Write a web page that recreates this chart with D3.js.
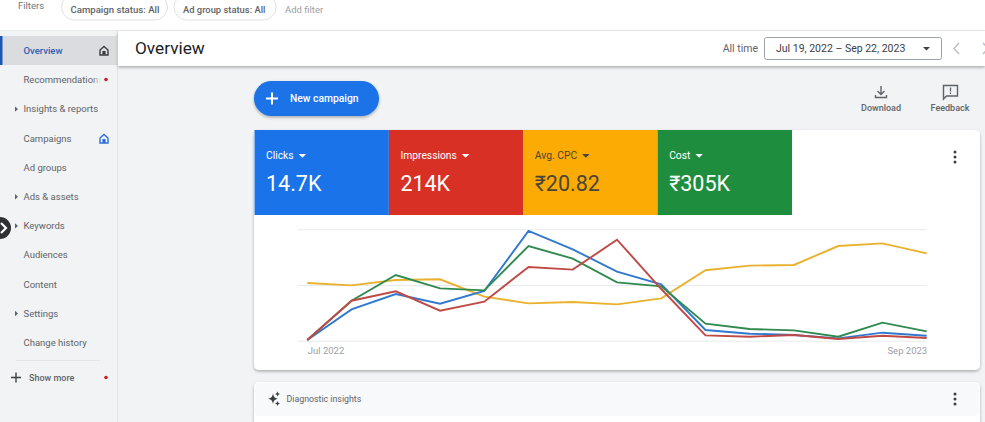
<!DOCTYPE html>
<html>
<head>
<meta charset="utf-8">
<script src="https://cdn.jsdelivr.net/npm/d3@7"></script>
<style>
html, body { margin: 0; padding: 0; background: #f1f3f4; overflow: hidden; }
svg { display: block; font-family: Roboto, sans-serif; }
</style>
</head>
<body>
<script>
var months = ["Jul 2022", "Aug 2022", "Sep 2022", "Oct 2022", "Nov 2022", "Dec 2022", "Jan 2023", "Feb 2023",
    "Mar 2023", "Apr 2023", "May 2023", "Jun 2023", "Jul 2023", "Aug 2023", "Sep 2023"];
var clicks = [0.6, 28.1, 41.9, 33.2, 44.6, 98.5, 82, 62, 50.6, 9.6, 6.3, 5.1, 2.1, 7.2, 4.5];
var impressions = [0.6, 35.9, 44.3, 26.9, 35, 66.2, 63.8, 90.7, 46.4, 4.8, 3.6, 5.1, 1.5, 4.5, 2.4];
var avgCpc = [51.8, 49.7, 54.5, 55.1, 39.5, 33.5, 34.7, 32.6, 38, 63.2, 67.4, 68, 85, 87.4, 78.4];
var cost = [0.6, 35.9, 59, 47, 45.2, 85, 73.7, 52.4, 48.8, 15.3, 10.5, 9.3, 3.6, 16.2, 8.4];
var yTicks = [0, 50, 100];

var tileNames = ["Clicks", "Impressions", "Avg. CPC", "Cost"];
var tileValues = ["14.7K", "214K", "₹20.82", "₹305K"];
var tileColors = ["#1a73e8", "#d93025", "#fbab04", "#1e8e3e"];
var tileText = ["#fff", "#fff", "#4a4538", "#fff"];

var navItems = ["Overview", "Recommendations", "Insights & reports", "Campaigns", "Ad groups", "Ads & assets",
    "Keywords", "Audiences", "Content", "Settings", "Change history"];
var navArrows = ["Insights & reports", "Ads & assets", "Keywords", "Settings"];

// drawn in this order so green and red sit on top as in the original
var chartSeries = [avgCpc, clicks, cost, impressions];
var chartColors = ["#e9b22e", "#3178cf", "#2f8a4f", "#bf4a45"];

var width = 985, height = 422;
var svg = d3.select("body").append("svg").attr("width", width).attr("height", height);

var defs = svg.append("defs");
var blur = defs.append("filter").attr("id", "soft").attr("x", "-5%").attr("y", "-10%").attr("width", "110%").attr("height", "125%");
blur.append("feDropShadow").attr("dx", 0).attr("dy", 1.5).attr("stdDeviation", 1.5).attr("flood-color", "#000").attr("flood-opacity", 0.3);
var fade = defs.append("linearGradient").attr("id", "fade");
fade.append("stop").attr("offset", "0%").attr("stop-color", "#f1f3f4").attr("stop-opacity", 0);
fade.append("stop").attr("offset", "100%").attr("stop-color", "#f1f3f4").attr("stop-opacity", 1);

function rect(x, y, w, h, fill, r) {
    return svg.append("rect").attr("x", x).attr("y", y).attr("width", w).attr("height", h).attr("fill", fill).attr("rx", r || 0);
}
function text(x, y, s, size, fill, weight, anchor) {
    return svg.append("text").attr("x", x).attr("y", y).text(s)
        .attr("font-size", size).attr("fill", fill)
        .attr("font-weight", weight || 400)
        .attr("text-anchor", anchor || "start");
}
function path(d, stroke, w, fill) {
    return svg.append("path").attr("d", d).attr("stroke", stroke || "none").attr("stroke-width", w || 1).attr("fill", fill || "none");
}

rect(0, 0, width, height, "#f1f3f4");

// top filter bar
rect(0, 0, width, 30, "#fff");
rect(0, 30, width, 1, "#e8eaed");
text(18, 9, "Filters", 9.5, "#70757a");
rect(61.5, -6, 106, 26, "#fff", 13).attr("stroke", "#e0e2e5");
text(70.5, 13, "Campaign status: All", 9.6, "#5f6368", 500);
rect(174, -6, 102, 26, "#fff", 13).attr("stroke", "#e0e2e5");
text(183, 13, "Ad group status: All", 9.4, "#5f6368", 500);
text(285, 13, "Add filter", 9.5, "#9aa0a6");

// sidebar
rect(117, 31, 1, 391, "#e4e6e9");
rect(0, 36, 117, 29, "#dadce0");
rect(0, 36, 2.5, 29, "#1a56b8");
navItems.forEach(function(d, i) {
    var y = 54 + i * 29.2;
    text(23.5, y, d, 9.5, i == 0 ? "#2f5fb3" : "#5f6368", i == 0 ? 500 : 400);
    if (navArrows.indexOf(d) >= 0) {
        path("M15 " + (y - 6) + "l3 2.7l-3 2.7z", null, 0, "#5f6368");
    }
});
rect(92, 70, 9, 18, "url(#fade)");
rect(101, 70, 16, 18, "#f1f3f4");
svg.append("circle").attr("cx", 106).attr("cy", 79.5).attr("r", 1.8).attr("fill", "#c5221f");
svg.append("circle").attr("cx", 106).attr("cy", 377.5).attr("r", 1.8).attr("fill", "#c5221f");
rect(16, 360, 84, 1, "#e2e4e7");
path("M11 377.5h10M16 372.5v10", "#3c4043", 1.4);
text(29, 381, "Show more", 9, "#5f6368", 500);

// home icons in the sidebar
function home(x, y, c) {
    path("M" + x + " " + (y + 9) + "v-5l4-3.5l4 3.5v5z", c, 1.4);
    rect(x + 2.4, y + 5, 3.2, 4, c);
}
home(100, 46, "#3c4043");
home(100, 134, "#2f6fd6");

// round expander on the sidebar edge
svg.append("circle").attr("cx", 0).attr("cy", 228).attr("r", 11).attr("fill", "#303134");
path("M1 223l5 5l-5 5", "#fff", 2.2);

// header strip
rect(118, 31, 867, 35, "#fff").attr("filter", "url(#soft)");
text(135, 54, "Overview", 17.2, "#202124");
text(758, 52, "All time", 10.5, "#5f6368", 400, "end");
rect(764.5, 37.5, 177, 22, "#fff", 2).attr("stroke", "#9aa0a6");
text(776, 52, "Jul 19, 2022 – Sep 22, 2023", 10.5, "#3c4043");
path("M923 47h7l-3.5 3.5z", null, 0, "#3c4043");
path("M959 43l-5 5.5l5 5.5", "#bdc1c6", 1.5);
path("M983 43l5 5.5l-5 5.5", "#bdc1c6", 1.5);

// new campaign button
rect(254, 81, 125, 35, "#1a73e8", 17.5).attr("filter", "url(#soft)");
path("M266 98.5h12M272 92.5v12", "#fff", 2);
text(290, 102, "New campaign", 10.3, "#fff", 500);

// download + feedback
path("M881 86v8M877.5 91l3.5 3.5l3.5-3.5M875.5 95v2.5h11v-2.5", "#5f6368", 1.4);
text(881, 111, "Download", 9, "#5f6368", 500, "middle");
path("M943.5 85.5h14v10.5h-11l-3 3z", "#5f6368", 1.4);
path("M950.5 87.5v4M950.5 92.5v1.5", "#5f6368", 1.3);
text(950, 111, "Feedback", 9, "#5f6368", 500, "middle");

// main card
rect(254, 130, 726, 240, "#fff", 5).attr("filter", "url(#soft)");

var tileX = d3.scaleBand().domain(tileNames).range([254.5, 792]);
svg.append("g").selectAll("rect").data(tileNames).enter().append("rect")
    .attr("x", function(d) { return tileX(d); })
    .attr("y", 130)
    .attr("width", tileX.bandwidth())
    .attr("height", 85)
    .attr("fill", function(d, i) { return tileColors[i]; });
tileNames.forEach(function(d, i) {
    var x = tileX(d) + 11.5;
    var label = text(x, 159, d, 10.3, tileText[i]);
    var w = label.node().getComputedTextLength();
    path("M" + (x + w + 5) + " 154h7.5l-3.75 3.75z", null, 0, tileText[i]);
    text(x, 191, tileValues[i], 21.5, tileText[i]);
});

// the chart
var x = d3.scalePoint().domain(months).range([307.3, 926.7]);
var y = d3.scaleLinear().domain([0, 100]).range([340.7, 229.3]);

var grid = svg.append("g").attr("transform", "translate(298,0)")
    .call(d3.axisLeft(y).tickValues(yTicks).tickSize(-629).tickFormat(""));
grid.select(".domain").remove();
grid.selectAll("line").attr("stroke", "#e8eaed").attr("stroke-width", 1);

var xAxis = svg.append("g").attr("transform", "translate(0,340.7)")
    .call(d3.axisBottom(x).tickValues([months[0], months[14]]).tickSize(0).tickPadding(7));
xAxis.select(".domain").remove();
xAxis.selectAll("text")
    .attr("font-family", "Roboto, sans-serif")
    .attr("font-size", 9.5)
    .attr("fill", "#9aa0a6")
    .attr("text-anchor", function(d, i) { return i == 0 ? "start" : "end"; });

var line = d3.line()
    .x(function(d, i) { return x(months[i]); })
    .y(function(d) { return y(d); });

svg.append("g").selectAll("path")
    .data(chartSeries)
    .enter().append("path")
    .attr("d", line)
    .attr("fill", "none")
    .attr("stroke-width", 1.9)
    .attr("stroke", function(d, i) { return chartColors[i]; });

// diagnostic card
rect(254, 382, 726, 60, "#fff", 5).attr("filter", "url(#soft)");
rect(255, 383, 724, 33, "#f8f9fa", 4);
path("M273 393.5c.8 3.6 1.6 4.4 5 5.2c-3.4.8-4.2 1.6-5 5.2c-.8-3.6-1.6-4.4-5-5.2c3.4-.8 4.2-1.6 5-5.2z", null, 0, "#3c4043");
path("M277.5 391.5l.8 1.7l1.7.8l-1.7.8l-.8 1.7l-.8-1.7l-1.7-.8l1.7-.8z", null, 0, "#3c4043");
path("M277.5 401l.8 1.7l1.7.8l-1.7.8l-.8 1.7l-.8-1.7l-1.7-.8l1.7-.8z", null, 0, "#3c4043");
text(286.5, 402, "Diagnostic insights", 8.8, "#5f6368");

// kebab menus
[157, 399].forEach(function(cy) {
    [-5, 0, 5].forEach(function(o) {
        svg.append("circle").attr("cx", 955).attr("cy", cy + o).attr("r", 1.5).attr("fill", "#3c4043");
    });
});
</script>
</body>
</html>
